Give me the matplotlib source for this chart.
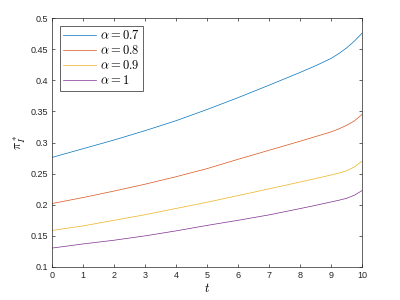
import numpy as np
import matplotlib
matplotlib.use("Agg")
import matplotlib.pyplot as plt

plt.rcParams['font.family'] = ['Liberation Sans', 'DejaVu Sans']
plt.rcParams['mathtext.fontset'] = 'cm'

# values
t = [0, 1, 2, 3, 4, 5, 6, 7, 8, 8.5, 9, 9.25, 9.5, 9.75, 10]
pi_07 = [0.276, 0.290, 0.304, 0.319, 0.335, 0.353, 0.372, 0.392, 0.4125, 0.4232, 0.435, 0.4428, 0.4518, 0.4627, 0.4755]
pi_08 = [0.202, 0.2115, 0.222, 0.233, 0.245, 0.258, 0.273, 0.2875, 0.302, 0.3095, 0.317, 0.3218, 0.3275, 0.3345, 0.345]
pi_09 = [0.1587, 0.166, 0.175, 0.184, 0.194, 0.204, 0.2147, 0.2255, 0.2365, 0.242, 0.2478, 0.2508, 0.2545, 0.2605, 0.270]
pi_1 = [0.1304, 0.137, 0.143, 0.150, 0.158, 0.1668, 0.175, 0.1837, 0.1938, 0.199, 0.2045, 0.2072, 0.2103, 0.2152, 0.2227]

labels = [r'$\alpha = 0.7$', r'$\alpha = 0.8$', r'$\alpha = 0.9$', r'$\alpha = 1$']
colors = ['#0072BD', '#D95319', '#EDB120', '#7E2F8E']

fig = plt.figure(figsize=(4, 3), dpi=100)
ax = fig.add_axes([0.13, 0.11, 0.775, 0.83])

for ys, lab, c in zip([pi_07, pi_08, pi_09, pi_1], labels, colors):
    ax.plot(t, ys, color=c, lw=0.5, label=lab)

ax.set_xlim(0, 10)
ax.set_ylim(0.1, 0.5)
ax.set_xticks(np.arange(0, 11, 1))
ax.set_yticks(np.arange(0.1, 0.51, 0.05))
ax.set_yticklabels(['0.1', '0.15', '0.2', '0.25', '0.3', '0.35', '0.4', '0.45', '0.5'])
ax.tick_params(direction='in', top=True, right=True, length=2.5, width=0.5,
               colors='#262626', labelsize=6.5, pad=3)
for s in ax.spines.values():
    s.set_color('#262626')
    s.set_linewidth(0.5)

ax.set_xlabel(r'$t$', fontsize=9, labelpad=1)
ax.set_ylabel(r'$\pi_I^*$', fontsize=9, labelpad=2)

leg = ax.legend(loc='upper left', fontsize=9, fancybox=False, framealpha=1,
                edgecolor='#262626', handlelength=2.6, borderpad=0.3,
                labelspacing=0.15, handletextpad=0.3, borderaxespad=0.6)
leg.get_frame().set_linewidth(0.5)

fig.savefig('out.png', dpi=100)
